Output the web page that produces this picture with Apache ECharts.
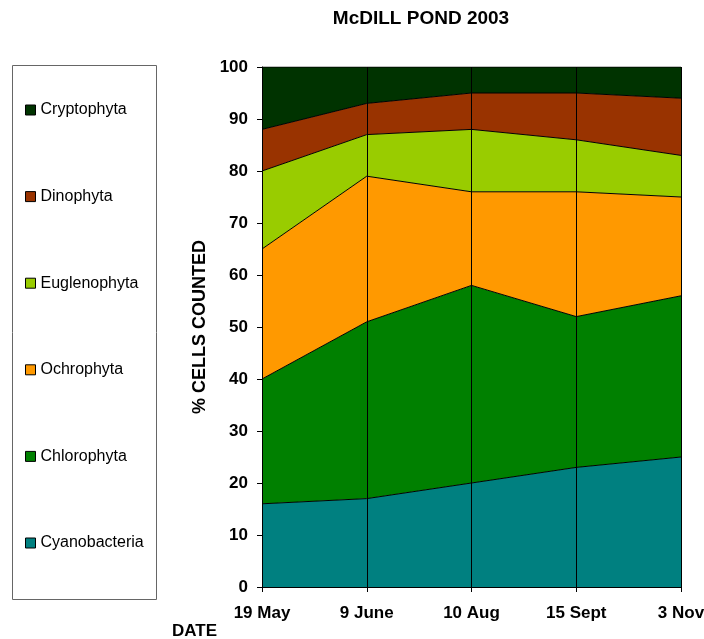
<!DOCTYPE html>
<html>
<head>
<meta charset="utf-8">
<script src="https://cdn.jsdelivr.net/npm/echarts@6/dist/echarts.min.js"></script>
<style>
  html, body { margin: 0; padding: 0; background: #fff; }
  #main { width: 704px; height: 639px; }
</style>
</head>
<body>
<div id="main"></div>
<script>
// sampling dates
var dates = ['19 May', '9 June', '10 Aug', '15 Sept', '3 Nov'];
// % of cells counted, per group (stacked bottom to top)
var cyanobacteria = [16, 17, 20, 23, 25];
var chlorophyta   = [24, 34, 38, 29, 31];
var ochrophyta    = [25, 28, 18, 24, 19];
var euglenophyta  = [15, 8, 12, 10, 8];
var dinophyta     = [8, 6, 7, 9, 11];
var cryptophyta   = [12, 7, 5, 5, 6];
var yTicks = [0, 10, 20, 30, 40, 50, 60, 70, 80, 90, 100];

var groups = [
  { name: 'Cyanobacteria', data: cyanobacteria, color: '#008080' },
  { name: 'Chlorophyta',   data: chlorophyta,   color: '#008000' },
  { name: 'Ochrophyta',    data: ochrophyta,    color: '#FF9900' },
  { name: 'Euglenophyta',  data: euglenophyta,  color: '#99CC00' },
  { name: 'Dinophyta',     data: dinophyta,     color: '#993300' },
  { name: 'Cryptophyta',   data: cryptophyta,   color: '#003300' }
];

var chart = echarts.init(document.getElementById('main'));
var font = '"Liberation Sans", Arial, sans-serif';

var series = groups.map(function (g) {
  return {
    name: g.name,
    type: 'line',
    stack: 'total',
    data: g.data,
    symbol: 'none',
    itemStyle: { color: g.color },
    lineStyle: { color: '#000', width: 1 },
    areaStyle: { color: g.color, opacity: 1 },
    emphasis: { disabled: true },
    animation: false
  };
});

var option = {
  backgroundColor: '#fff',
  textStyle: { fontFamily: font },
  title: {
    text: 'McDILL POND 2003',
    left: 421,
    top: 9,
    padding: 0,
    textAlign: 'center',
    textStyle: { fontFamily: font, fontSize: 19, fontWeight: 'bold', color: '#000' }
  },
  legend: {
    orient: 'vertical',
    left: 25,
    top: 102,
    padding: 0,
    itemWidth: 10,
    itemHeight: 10,
    itemGap: 70.6,
    icon: 'rect',
    data: groups.map(function (g) { return g.name; }).reverse(),
    itemStyle: { borderColor: '#000', borderWidth: 1 },
    textStyle: { fontFamily: font, fontSize: 16, lineHeight: 16, color: '#000' },
    selectedMode: false
  },
  graphic: [
    {
      type: 'rect',
      shape: { x: 12.5, y: 65.5, width: 144, height: 534 },
      style: { fill: 'none', stroke: '#666', lineWidth: 1 },
      z: -1
    },
    {
      type: 'text',
      left: 172,
      top: 623,
      style: { text: 'DATE', font: 'bold 17px ' + font, fill: '#000' }
    }
  ],
  grid: {
    left: 262, right: 23, top: 67, bottom: 52,
    containLabel: false,
    outerBoundsMode: 'none'
  },
  xAxis: {
    type: 'category',
    data: dates,
    boundaryGap: false,
    z: 10,
    axisLine: { lineStyle: { color: '#000', width: 1 } },
    axisTick: { show: true, length: 5, lineStyle: { color: '#000' } },
    splitLine: { show: true, lineStyle: { color: '#000', width: 1 } },
    axisLabel: { fontFamily: font, fontSize: 17, fontWeight: 'bold', color: '#000', margin: 18 }
  },
  yAxis: {
    type: 'value',
    min: yTicks[0],
    max: yTicks[yTicks.length - 1],
    interval: 10,
    name: '% CELLS COUNTED',
    nameLocation: 'middle',
    nameGap: 53,
    nameTextStyle: { fontFamily: font, fontSize: 18, fontWeight: 'bold', color: '#000' },
    z: 10,
    axisLine: { show: true, lineStyle: { color: '#000', width: 1 } },
    axisTick: { show: true, length: 5, lineStyle: { color: '#000' } },
    splitLine: { show: false },
    axisLabel: { fontFamily: font, fontSize: 17, fontWeight: 'bold', color: '#000', margin: 14 }
  },
  series: series
};

chart.setOption(option);
</script>
</body>
</html>
